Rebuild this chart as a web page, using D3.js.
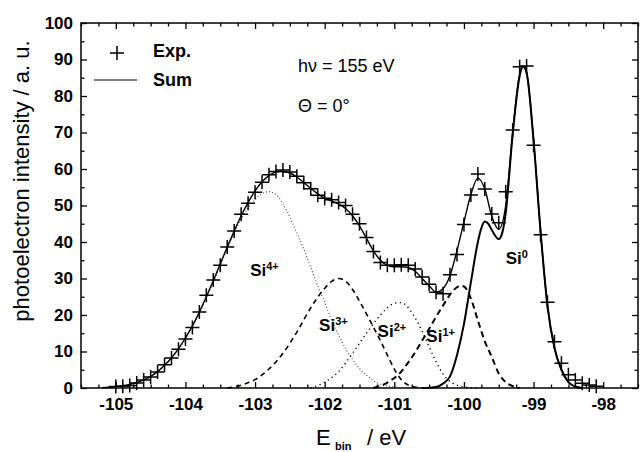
<!DOCTYPE html>
<html>
<head>
<meta charset="utf-8">
<script src="https://cdn.jsdelivr.net/npm/d3@7"></script>
<style>
  body { margin: 0; background: #fff; }
  svg { font-family: Arial, "Liberation Sans", sans-serif; }
</style>
</head>
<body>
<svg id="chart" width="640" height="452"></svg>
<script>
// axis ticks
const xTicks = [-105, -104, -103, -102, -101, -100, -99, -98];
const yTicks = [0, 10, 20, 30, 40, 50, 60, 70, 80, 90, 100];

// measured points (binding energy / intensity)
const expE = [-105.0, -104.9, -104.8, -104.7, -104.6, -104.5, -104.4, -104.3, -104.2, -104.1,
  -104.0, -103.9, -103.8, -103.7, -103.6, -103.5, -103.4, -103.3, -103.2, -103.1,
  -103.0, -102.9, -102.8, -102.7, -102.6, -102.5, -102.4, -102.3, -102.2, -102.1,
  -102.0, -101.9, -101.8, -101.7, -101.6, -101.5, -101.4, -101.3, -101.2, -101.1,
  -101.0, -100.9, -100.8, -100.7, -100.6, -100.5, -100.4, -100.3, -100.2, -100.1,
  -100.0, -99.9, -99.8, -99.7, -99.6, -99.5, -99.4, -99.3, -99.2, -99.1,
  -99.0, -98.9, -98.8, -98.7, -98.6, -98.5, -98.4, -98.3, -98.2, -98.1];
const expI = [0.4, 0.5, 0.7, 1.4, 2.2, 3.0, 4.4, 6.4, 8.2, 10.6,
  13.4, 16.6, 20.8, 25.4, 29.6, 33.6, 38.6, 43.0, 47.6, 50.6,
  53.6, 56.4, 58.4, 59.3, 59.7, 59.2, 58.0, 56.2, 54.6, 52.8,
  52.0, 51.6, 50.8, 50.0, 47.6, 45.0, 41.2, 37.4, 34.4, 33.6,
  33.6, 33.8, 33.6, 32.6, 30.4, 28.4, 26.2, 25.8, 31.0, 36.6,
  44.8, 52.9, 58.6, 54.5, 47.7, 45.3, 53.8, 70.7, 88.0, 88.2,
  66.5, 42.0, 23.5, 12.7, 6.8, 3.6, 2.2, 1.3, 0.8, 0.5];

// fitted sum
const sumCurve = [[-105.2, 0.1], [-105.1, 0.2], [-105.0, 0.4], [-104.9, 0.6], [-104.8, 1.0],
  [-104.7, 1.5], [-104.6, 2.2], [-104.5, 3.2], [-104.4, 4.5], [-104.3, 6.2], [-104.2, 8.3],
  [-104.1, 10.8], [-104.0, 13.7], [-103.9, 17.0], [-103.8, 20.8], [-103.7, 25.0], [-103.6, 29.4],
  [-103.5, 34.0], [-103.4, 38.6], [-103.3, 43.0], [-103.2, 47.2], [-103.1, 50.8], [-103.0, 54.0],
  [-102.9, 56.5], [-102.8, 58.2], [-102.7, 59.2], [-102.6, 59.4], [-102.5, 58.9], [-102.4, 57.8],
  [-102.3, 56.3], [-102.2, 54.7], [-102.1, 53.2], [-102.0, 52.0], [-101.9, 51.2], [-101.8, 50.4],
  [-101.7, 49.2], [-101.6, 47.2], [-101.5, 44.4], [-101.4, 41.0], [-101.3, 37.6], [-101.2, 35.0],
  [-101.1, 33.6], [-101.0, 33.2], [-100.9, 33.2], [-100.8, 33.0], [-100.7, 32.0], [-100.6, 30.0],
  [-100.5, 28.0], [-100.4, 26.3], [-100.3, 27.2], [-100.2, 30.8], [-100.1, 37.6], [-100.0, 45.5],
  [-99.9, 53.0], [-99.8, 57.5], [-99.7, 54.5], [-99.6, 47.0], [-99.5, 43.5], [-99.4, 50.0],
  [-99.3, 70.0], [-99.2, 86.0], [-99.15, 88.3], [-99.1, 86.5], [-99.0, 68.0], [-98.9, 43.0],
  [-98.8, 22.5], [-98.7, 11.0], [-98.6, 5.0], [-98.5, 1.6], [-98.4, 0.4], [-98.3, 0.0]];

// components
const si4Curve = [[-105.2, 0.0], [-104.9, 0.5], [-104.6, 2.1], [-104.3, 6.0], [-104.0, 13.5],
  [-103.8, 20.5], [-103.6, 29.0], [-103.4, 38.0], [-103.2, 46.3], [-103.0, 51.6], [-102.9, 53.2],
  [-102.8, 53.8], [-102.7, 53.0], [-102.6, 50.5], [-102.5, 46.8], [-102.4, 42.5], [-102.3, 38.0],
  [-102.2, 33.0], [-102.1, 28.0], [-102.0, 23.5], [-101.9, 18.5], [-101.8, 14.5], [-101.7, 10.8],
  [-101.6, 7.8], [-101.5, 5.3], [-101.4, 3.5], [-101.3, 2.0], [-101.2, 1.0], [-101.0, 0.3], [-100.8, 0.0]];
const si3Curve = [[-103.4, 0.0], [-103.2, 0.8], [-103.0, 2.3], [-102.8, 5.2], [-102.6, 9.5],
  [-102.4, 15.3], [-102.2, 22.0], [-102.0, 27.3], [-101.9, 29.2], [-101.8, 30.0], [-101.7, 29.3],
  [-101.6, 27.0], [-101.5, 23.8], [-101.4, 20.3], [-101.3, 16.7], [-101.2, 13.0], [-101.1, 9.0],
  [-101.0, 5.2], [-100.9, 2.3], [-100.8, 0.8], [-100.6, 0.0]];
const si2Curve = [[-102.2, 0.0], [-102.0, 1.6], [-101.8, 4.5], [-101.6, 9.5], [-101.4, 15.0],
  [-101.2, 20.0], [-101.1, 22.0], [-101.0, 23.2], [-100.9, 23.4], [-100.8, 22.0], [-100.7, 19.2],
  [-100.6, 15.5], [-100.5, 11.3], [-100.4, 7.2], [-100.3, 3.8], [-100.2, 1.8], [-100.0, 0.3], [-99.8, 0.0]];
const si1Curve = [[-101.3, 0.0], [-101.1, 1.5], [-100.9, 4.5], [-100.8, 7.0], [-100.7, 9.8],
  [-100.6, 13.0], [-100.5, 16.2], [-100.4, 19.5], [-100.3, 22.6], [-100.2, 25.6], [-100.1, 27.6],
  [-100.05, 28.0], [-100.0, 27.8], [-99.9, 24.5], [-99.8, 18.5], [-99.7, 12.8], [-99.6, 8.5],
  [-99.5, 4.0], [-99.4, 1.6], [-99.3, 0.5], [-99.2, 0.0]];
const si0Curve = [[-100.6, 0.0], [-100.4, 0.3], [-100.3, 1.2], [-100.2, 3.2], [-100.1, 9.0],
  [-100.0, 17.5], [-99.9, 29.0], [-99.8, 40.0], [-99.75, 43.8], [-99.7, 45.6], [-99.65, 45.0],
  [-99.6, 43.3], [-99.5, 40.8], [-99.45, 42.5], [-99.4, 48.0], [-99.3, 69.5], [-99.2, 85.5],
  [-99.15, 88.0], [-99.1, 86.3], [-99.0, 67.8], [-98.9, 43.0], [-98.8, 22.5], [-98.7, 11.0],
  [-98.6, 5.0], [-98.5, 1.6], [-98.4, 0.4], [-98.3, 0.0]];

// component labels
const compLabels = [
  { base: "Si", sup: "4+", e: -103.07, i: 30.8 },
  { base: "Si", sup: "3+", e: -102.08, i: 15.5 },
  { base: "Si", sup: "2+", e: -101.24, i: 14.1 },
  { base: "Si", sup: "1+", e: -100.54, i: 12.7 },
  { base: "Si", sup: "0", e: -99.40, i: 34.0 }
];

const svg = d3.select("#chart");
const x = d3.scaleLinear().domain([-105.5, -97.5]).range([81, 638]);
const y = d3.scaleLinear().domain([0, 100]).range([388, 23]);
const [x0, x1] = x.range();
const [y0, y1] = y.range();

// minor ticks every 0.25 eV / 5 units
const xMinor = d3.range(-105.5, -97.49, 0.25).filter(v => !xTicks.includes(v));
const yMinor = d3.range(5, 100, 10);

function tickGroup(axis, tx, ty) {
  const g = svg.append("g").attr("transform", `translate(${tx},${ty})`).call(axis);
  g.select(".domain").remove();
  g.selectAll("line").attr("stroke", "#000").attr("stroke-width", 1.3);
  return g;
}

// ticks inside on all four sides
const bottom = tickGroup(d3.axisBottom(x).tickValues(xTicks).tickSize(-6).tickFormat(d => String(d)), 0, y0);
bottom.selectAll("text")
  .attr("y", 10).attr("dy", "0.71em")
  .style("font-size", "17px").style("font-weight", "bold").attr("fill", "#000");
tickGroup(d3.axisBottom(x).tickValues(xMinor).tickSize(-3.5).tickFormat(""), 0, y0);
tickGroup(d3.axisTop(x).tickValues(xTicks).tickSize(-6).tickFormat(""), 0, y1);
tickGroup(d3.axisTop(x).tickValues(xMinor).tickSize(-3.5).tickFormat(""), 0, y1);

const left = tickGroup(d3.axisLeft(y).tickValues(yTicks).tickSize(-6).tickFormat(d3.format("d")), x0, 0);
left.selectAll("text")
  .attr("x", -8)
  .style("font-size", "17px").style("font-weight", "bold").attr("fill", "#000");
tickGroup(d3.axisLeft(y).tickValues(yMinor).tickSize(-3.5).tickFormat(""), x0, 0);
tickGroup(d3.axisRight(y).tickValues(yTicks).tickSize(-6).tickFormat(""), x1, 0);
tickGroup(d3.axisRight(y).tickValues(yMinor).tickSize(-3.5).tickFormat(""), x1, 0);

// frame
svg.append("rect")
  .attr("x", x0).attr("y", y1)
  .attr("width", x1 - x0).attr("height", y0 - y1)
  .attr("fill", "none").attr("stroke", "#000").attr("stroke-width", 1.5);

// curves
const line = d3.line()
  .x(d => x(d[0]))
  .y(d => y(d[1]))
  .curve(d3.curveMonotoneX);

const curves = [
  { data: si4Curve, width: 1.1, dash: "1,2.2", color: "#444" },
  { data: si3Curve, width: 1.6, dash: "5,4", color: "#000" },
  { data: si2Curve, width: 1.4, dash: "1.2,3.5", color: "#000" },
  { data: si1Curve, width: 2, dash: "6,4", color: "#000" },
  { data: si0Curve, width: 2, dash: null, color: "#000" },
  { data: sumCurve, width: 1.4, dash: null, color: "#000" }
];

svg.selectAll(".curve")
  .data(curves)
  .enter()
  .append("path")
  .attr("class", "curve")
  .attr("fill", "none")
  .attr("stroke", d => d.color)
  .attr("stroke-width", d => d.width)
  .attr("stroke-dasharray", d => d.dash)
  .attr("stroke-linejoin", "round")
  .attr("d", d => line(d.data));

// experimental crosses
const cross = "M-7,0H7M0,-7V7";
svg.selectAll(".exp")
  .data(expE.map((e, i) => [e, expI[i]]))
  .enter()
  .append("path")
  .attr("class", "exp")
  .attr("transform", d => `translate(${x(d[0])},${y(d[1])})`)
  .attr("d", cross)
  .attr("stroke", "#000")
  .attr("stroke-width", 1.5)
  .attr("fill", "none");

// component labels
const lab = svg.selectAll(".comp")
  .data(compLabels)
  .enter()
  .append("text")
  .attr("class", "comp")
  .attr("x", d => x(d.e))
  .attr("y", d => y(d.i))
  .style("font-size", "17px")
  .style("font-weight", "bold");
lab.append("tspan").text(d => d.base);
lab.append("tspan")
  .attr("dy", -6)
  .style("font-size", "11px")
  .text(d => d.sup);

// legend
svg.append("path")
  .attr("transform", "translate(117,53)")
  .attr("d", cross)
  .attr("stroke", "#000").attr("stroke-width", 1.5);
svg.append("text").attr("x", 153).attr("y", 57)
  .style("font-size", "18px").style("font-weight", "bold").text("Exp.");
svg.append("line")
  .attr("x1", 94).attr("x2", 137).attr("y1", 80).attr("y2", 80)
  .attr("stroke", "#000").attr("stroke-width", 1.2);
svg.append("text").attr("x", 153).attr("y", 86)
  .style("font-size", "18px").style("font-weight", "bold").text("Sum");

// annotations
svg.append("text").attr("x", 298).attr("y", 72)
  .style("font-size", "18px").text("hν = 155 eV");
svg.append("text").attr("x", 298).attr("y", 112)
  .style("font-size", "18px").text("Θ = 0°");

// axis titles
svg.append("text")
  .attr("transform", "translate(29,181) rotate(-90)")
  .attr("text-anchor", "middle")
  .style("font-size", "22px")
  .text("photoelectron intensity / a. u.");

const xt = svg.append("text").attr("y", 445).style("font-size", "22px");
xt.append("tspan").attr("x", 316).text("E");
xt.append("tspan").attr("x", 335).attr("y", 450)
  .style("font-size", "11px").style("font-weight", "bold").text("bin");
xt.append("tspan").attr("x", 367).attr("y", 445).text("/ eV");
</script>
</body>
</html>
